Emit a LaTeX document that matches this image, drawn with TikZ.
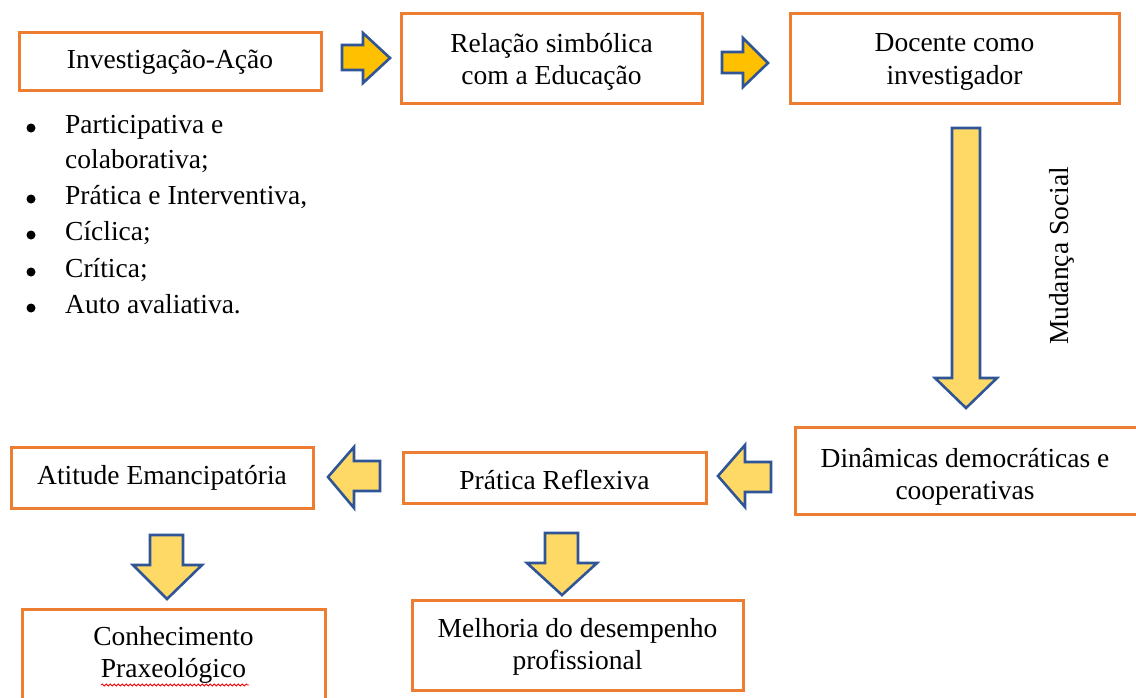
\documentclass[tikz,border=0pt]{standalone}
\usepackage{fontspec}
\setmainfont{Liberation Serif}
\usetikzlibrary{decorations.pathmorphing}
\definecolor{boxorange}{HTML}{ED7D31}
\definecolor{arrgold}{HTML}{FFC000}
\definecolor{arrlight}{HTML}{FFD966}
\definecolor{arrblue}{HTML}{2F5597}
\tikzset{
  flowbox/.style={draw=boxorange, line width=3pt, inner sep=0pt},
  boxtext/.style={align=center, inner sep=0pt, font=\fontsize{27.5}{32.5}\selectfont},
  blockarrow/.style={draw=arrblue, line width=2.6pt, line join=miter},
  plain/.style={font=\fontsize{27.5}{36}\selectfont, inner sep=0pt, anchor=west},
}
\begin{document}
\begin{tikzpicture}[x=1pt,y=-1pt]
\useasboundingbox (0,0) rectangle (1136,697);
\clip (0,0) rectangle (1136,697);
% boxes
\node[flowbox, minimum width=302pt, minimum height=58pt] (ia) at (170,61) {};
\node[boxtext] (iat) at (170,62) {Investigação-Ação};
\node[flowbox, minimum width=301pt, minimum height=90pt] (rel) at (551.5,58) {};
\node[boxtext] (relt) at (551.5,62) {Relação simbólica\\com a Educação};
\node[flowbox, minimum width=329pt, minimum height=90pt] (doc) at (954.5,58) {};
\node[boxtext] (doct) at (954.5,62) {Docente como\\investigador};
\node[flowbox, minimum width=345pt, minimum height=87pt] (din) at (967.5,470.5) {};
\node[boxtext] (dint) at (965,477) {Dinâmicas democráticas e\\cooperativas};
\node[flowbox, minimum width=303pt, minimum height=51pt] (pr) at (554.5,477.5) {};
\node[boxtext] (prt) at (554.5,480) {Prática Reflexiva};
\node[flowbox, minimum width=302pt, minimum height=61pt] (at) at (162,477.5) {};
\node[boxtext] (att) at (162,477.5) {Atitude Emancipatória};
\node[flowbox, minimum width=303pt, minimum height=100pt] (con) at (173.5,659) {};
\node[boxtext] (cont) at (173.5,655) {Conhecimento\\Praxeológico};
\node[flowbox, minimum width=331pt, minimum height=90pt] (mel) at (577.5,645) {};
\node[boxtext] (melt) at (577.5,647) {Melhoria do desempenho\\profissional};
% spell-check underline
\draw[red, line width=0.8pt, decorate, decoration={snake, amplitude=1pt, segment length=4pt}] (101,685) -- (249,685);
% bullet list
\foreach \yy/\tt/\b in {126/{Participativa e}/1, 161/{colaborativa;}/0, 197/{Prática e Interventiva,}/1, 233/{Cíclica;}/1, 270/{Crítica;}/1, 306/{Auto avaliativa.}/1}{
  \node[plain] at (65,\yy) {\strut\tt};
  \ifnum\b=1 \fill (31,\yy+2) circle (4.5pt); \fi
}
% block arrows (top row, gold)
\draw[blockarrow, fill=arrgold] (342,45) -- (363,45) -- (363,33) -- (390,58) -- (363,83) -- (363,70) -- (342,70) -- cycle;
\draw[blockarrow, fill=arrgold] (722,52) -- (743,52) -- (743,38) -- (768,63) -- (743,87) -- (743,73) -- (722,73) -- cycle;
% big down arrow
\draw[blockarrow, fill=arrlight] (952,128) -- (980,128) -- (980,378) -- (997,378) -- (966,408) -- (935,378) -- (952,378) -- cycle;
\node[font=\fontsize{27.5}{30}\selectfont, rotate=90, inner sep=0pt] (ms) at (1062,256) {Mudança Social};
% left arrows
\draw[blockarrow, fill=arrlight] (771,462) -- (745,462) -- (745,445) -- (718,476) -- (745,507) -- (745,492) -- (771,492) -- cycle;
\draw[blockarrow, fill=arrlight] (380,461) -- (354,461) -- (354,447) -- (328,477) -- (354,508) -- (354,491) -- (380,491) -- cycle;
% down arrows
\draw[blockarrow, fill=arrlight] (150,535) -- (183,535) -- (183,565) -- (202,565) -- (167,599) -- (133,565) -- (150,565) -- cycle;
\draw[blockarrow, fill=arrlight] (545,533) -- (578,533) -- (578,563) -- (597,563) -- (562,595) -- (527,563) -- (545,563) -- cycle;
\end{tikzpicture}
\end{document}
